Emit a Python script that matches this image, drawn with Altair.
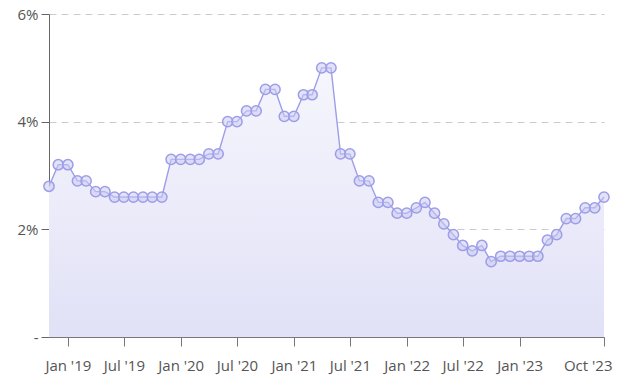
import altair as alt
import pandas as pd

months = pd.date_range("2018-11-01", "2023-10-01", freq="MS").strftime("%Y-%m-%d").tolist()
rates = [2.8, 3.2, 3.2, 2.9, 2.9, 2.7, 2.7, 2.6, 2.6, 2.6, 2.6, 2.6, 2.6,
         3.3, 3.3, 3.3, 3.3, 3.4, 3.4, 4.0, 4.0, 4.2, 4.2, 4.6, 4.6,
         4.1, 4.1, 4.5, 4.5, 5.0, 5.0, 3.4, 3.4, 2.9, 2.9, 2.5, 2.5,
         2.3, 2.3, 2.4, 2.5, 2.3, 2.1, 1.9, 1.7, 1.6, 1.7, 1.4, 1.5,
         1.5, 1.5, 1.5, 1.5, 1.8, 1.9, 2.2, 2.2, 2.4, 2.4, 2.6]
x_ticks = ["2019-01-01", "2019-07-01", "2020-01-01", "2020-07-01", "2021-01-01",
           "2021-07-01", "2022-01-01", "2022-07-01", "2023-01-01", "2023-10-01"]
y_ticks = [0, 2, 4, 6]

df = pd.DataFrame({"month": months, "rate": rates})

font = "Open Sans"
line_col = "#9d9de8"

tick_vals = [alt.DateTime(year=int(d[:4]), month=int(d[5:7]), date=1, utc=True) for d in x_ticks]

x_enc = alt.X("month:T", scale=alt.Scale(type="utc", nice=False, domain=[months[0], months[-1]]),
              axis=alt.Axis(values=tick_vals, labelExpr="utcFormat(datum.value, \"%b '%y\")",
                            title=None, grid=False, domainColor="#777", tickColor="#777",
                            tickSize=9, labelPadding=12, labelFont=font, labelFontSize=15,
                            labelColor="#555", labelFlush=True, labelFlushOffset=8))
y_enc = alt.Y("rate:Q", scale=alt.Scale(domain=[0, 6], nice=False),
              axis=alt.Axis(values=y_ticks, labelExpr="datum.value == 0 ? '-' : datum.value + '%'",
                            title=None, grid=True, gridDash=[7, 5], gridColor="#cccccc",
                            domainColor="#666", tickColor="#666", tickSize=8, labelPadding=3,
                            labelFont=font, labelFontSize=15, labelColor="#555",
                            labelFlush=False))

base = alt.Chart(df).encode(x=x_enc, y=y_enc)

area = base.mark_area(
    color=alt.Gradient(gradient="linear",
                       stops=[alt.GradientStop(color="#f6f6fd", offset=0),
                              alt.GradientStop(color="#e1e1f7", offset=1)],
                       x1=1, x2=1, y1=0, y2=1)
)
line = base.mark_line(color=line_col, strokeWidth=1.4)
pts = base.mark_point(shape="circle", size=105, filled=False, stroke=line_col,
                      strokeWidth=1.5, fill="#cacaf3", fillOpacity=0.55, opacity=1)

chart = (area + line + pts).properties(
    width=555, height=323,
    padding={"left": 49, "top": 14, "right": 23, "bottom": 41},
    autosize=alt.AutoSizeParams(type="none"),
    background="white",
).configure_view(stroke=None)

chart.save("out.html", embed_options={"renderer": "svg", "actions": False})
